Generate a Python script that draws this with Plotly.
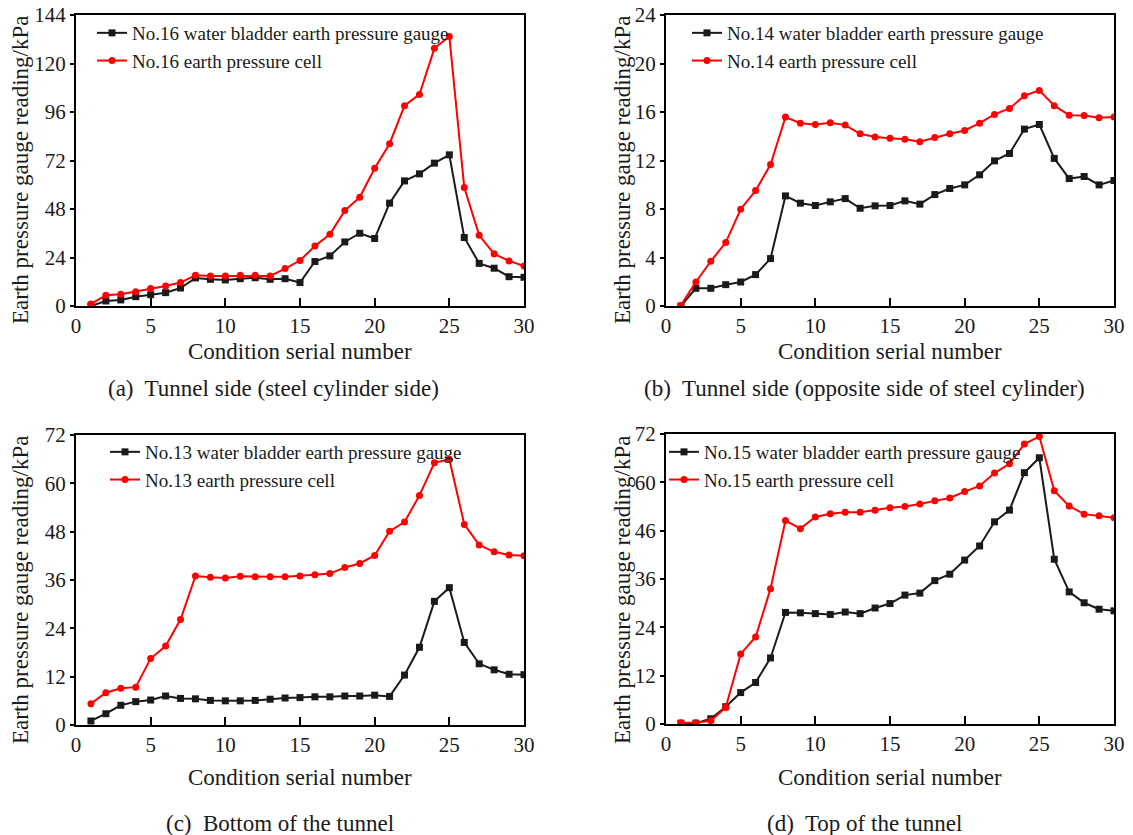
import plotly.graph_objects as go

# ---------------- data ----------------
condition = list(range(1, 31))

a_gauge = [0, 2.5, 3.0, 4.6, 5.6, 6.6, 8.9, 13.9, 13.2, 12.9, 13.5, 14.0, 13.2, 13.5, 11.6,
           22.0, 24.8, 31.7, 36.0, 33.4, 50.9, 61.9, 65.4, 70.7, 74.8, 33.9, 21.1, 18.7, 14.5, 14.2]
a_cell = [1.0, 5.3, 5.8, 7.1, 8.6, 9.9, 11.6, 15.2, 14.9, 14.9, 15.2, 15.2, 14.9, 18.5, 22.5,
          29.7, 35.5, 47.2, 53.8, 68.2, 80.3, 99.1, 104.7, 127.5, 133.4, 58.6, 35.0, 25.8, 22.3, 19.8]

b_gauge = [0, 1.46, 1.46, 1.76, 1.98, 2.59, 3.91, 9.08, 8.48, 8.29, 8.59, 8.86, 8.06, 8.26, 8.29,
           8.67, 8.40, 9.19, 9.69, 9.99, 10.82, 11.97, 12.58, 14.59, 14.97, 12.17, 10.51, 10.68, 9.99, 10.35]
b_cell = [0.05, 1.98, 3.69, 5.23, 7.98, 9.52, 11.67, 15.58, 15.08, 14.97, 15.11, 14.92, 14.20, 13.93, 13.84,
          13.76, 13.54, 13.90, 14.20, 14.48, 15.08, 15.80, 16.29, 17.34, 17.78, 16.52, 15.74, 15.72, 15.52, 15.58]

c_gauge = [1.0, 2.8, 4.9, 5.8, 6.2, 7.2, 6.6, 6.5, 6.1, 6.0, 6.0, 6.1, 6.4, 6.7, 6.8,
           7.0, 7.0, 7.2, 7.2, 7.4, 7.1, 12.4, 19.3, 30.7, 34.1, 20.5, 15.2, 13.7, 12.6, 12.5]
c_cell = [5.3, 8.0, 9.1, 9.4, 16.5, 19.6, 26.2, 37.0, 36.7, 36.5, 36.9, 36.8, 36.8, 36.8, 37.0,
          37.3, 37.6, 39.1, 40.1, 42.1, 48.1, 50.4, 57.0, 65.1, 66.0, 49.8, 44.7, 43.0, 42.2, 42.0]

d_gauge = [0.2, 0.2, 1.3, 4.3, 7.8, 10.3, 16.4, 27.7, 27.6, 27.4, 27.2, 27.8, 27.4, 28.8, 29.9,
           32.0, 32.5, 35.6, 37.2, 40.7, 44.2, 50.2, 53.1, 62.4, 66.1, 40.9, 32.8, 30.1, 28.5, 28.1]
d_cell = [0.3, 0.3, 0.8, 4.1, 17.4, 21.6, 33.6, 50.5, 48.5, 51.4, 52.2, 52.6, 52.6, 53.1, 53.7,
          54.0, 54.6, 55.4, 56.1, 57.7, 59.1, 62.3, 64.6, 69.5, 71.4, 57.9, 54.1, 52.1, 51.7, 51.2]

x_ticks = [0, 5, 10, 15, 20, 25, 30]
a_yticks = [0, 24, 48, 72, 96, 120, 144]
b_yticks = [0, 4, 8, 12, 16, 20, 24]
c_yticks = [0, 12, 24, 36, 48, 60, 72]
d_yticks = [0, 12, 24, 36, 48, 60, 72]
d_yticklabels = ["0", "12", "24", "36", "46", "60", "72"]

gauge_names = ["No.16 water bladder earth pressure gauge", "No.14 water bladder earth pressure gauge",
               "No.13 water bladder earth pressure gauge", "No.15 water bladder earth pressure gauge"]
cell_names = ["No.16 earth pressure cell", "No.14 earth pressure cell",
              "No.13 earth pressure cell", "No.15 earth pressure cell"]
captions = ["(a)  Tunnel side (steel cylinder side)", "(b)  Tunnel side (opposite side of steel cylinder)",
            "(c)  Bottom of the tunnel", "(d)  Top of the tunnel"]
x_title = "Condition serial number"
y_title = "Earth pressure gauge reading/kPa"

# ---------------- layout ----------------
W, H = 1133, 835
FONT = "Liberation Serif"
TXT = "#1a1a1a"

# pixel boxes of plot areas: (left, right, top, bottom)
boxes = [(76, 524, 15, 306), (666, 1114, 15, 306), (76, 524, 435, 725), (666, 1114, 434, 724)]
gauges = [a_gauge, b_gauge, c_gauge, d_gauge]
cells = [a_cell, b_cell, c_cell, d_cell]
yticks = [a_yticks, b_yticks, c_yticks, d_yticks]
yticklabels = [[str(v) for v in a_yticks], [str(v) for v in b_yticks],
               [str(v) for v in c_yticks], d_yticklabels]
legend_pos = [(92, 14), (687, 14), (105, 433), (664, 433)]
caption_pos = [(273, 388), (864, 388), (280, 823), (864, 823)]
xtitle_y = [351, 351, 777, 777]
ytitle_pos = [(20, 170), (622, 170), (20, 590), (622, 590)]

fig = go.Figure()
annotations = []
layout = dict(
    width=W, height=H,
    margin=dict(l=0, r=0, t=0, b=0, autoexpand=False),
    paper_bgcolor="white", plot_bgcolor="white",
    font=dict(family=FONT, size=20, color=TXT),
    showlegend=True,
)

for i in range(4):
    sfx = "" if i == 0 else str(i + 1)
    xa, ya = "x" + sfx, "y" + sfx
    leg = "legend" if i == 0 else "legend" + str(i + 1)
    fig.add_trace(go.Scatter(
        x=condition, y=gauges[i], name=gauge_names[i], mode="lines+markers",
        line=dict(color="#1a1a1a", width=2), marker=dict(symbol="square", size=7, color="#1a1a1a"),
        xaxis=xa, yaxis=ya, legend=leg))
    fig.add_trace(go.Scatter(
        x=condition, y=cells[i], name=cell_names[i], mode="lines+markers",
        line=dict(color="#ff0000", width=2), marker=dict(symbol="circle", size=7, color="#ff0000"),
        xaxis=xa, yaxis=ya, legend=leg))

    l, r, t, b = boxes[i]
    layout["xaxis" + sfx] = dict(
        domain=[l / W, r / W], anchor=ya, range=[0, 30], tickvals=x_ticks,
        ticks="inside", ticklen=8, tickwidth=1.5, tickcolor="black", automargin=False,
        showline=True, linewidth=2, linecolor="black", mirror=True,
        showgrid=False, zeroline=False, tickfont=dict(size=21, color=TXT))
    layout["yaxis" + sfx] = dict(
        domain=[1 - b / H, 1 - t / H], anchor=xa, range=[0, yticks[i][-1]],
        tickvals=yticks[i], ticktext=yticklabels[i], automargin=False,
        ticks="outside", ticklen=4, tickwidth=1.5, tickcolor="black",
        showline=True, linewidth=2, linecolor="black", mirror=True,
        showgrid=False, zeroline=False, tickfont=dict(size=21, color=TXT))
    lx, ly = legend_pos[i]
    layout[leg] = dict(
        x=lx / W, y=1 - ly / H, xanchor="left", yanchor="top",
        bgcolor="rgba(0,0,0,0)", borderwidth=0, tracegroupgap=0,
        font=dict(family=FONT, size=19, color=TXT), itemwidth=30)

    annotations.append(dict(text=x_title, x=(l + r) / 2 / W, y=1 - xtitle_y[i] / H,
                            xref="paper", yref="paper", showarrow=False,
                            xanchor="center", yanchor="middle", font=dict(size=23, color=TXT)))
    tx, ty = ytitle_pos[i]
    annotations.append(dict(text=y_title, x=tx / W, y=1 - ty / H, textangle=-90,
                            xref="paper", yref="paper", showarrow=False,
                            xanchor="center", yanchor="middle", font=dict(size=23, color=TXT)))
    cx, cy = caption_pos[i]
    annotations.append(dict(text=captions[i], x=cx / W, y=1 - cy / H,
                            xref="paper", yref="paper", showarrow=False,
                            xanchor="center", yanchor="middle", font=dict(size=23, color=TXT)))

layout["annotations"] = annotations
fig.update_layout(**layout)
fig.write_html("out.html", config={"displayModeBar": False},
               post_script="document.body.style.margin='0';")
